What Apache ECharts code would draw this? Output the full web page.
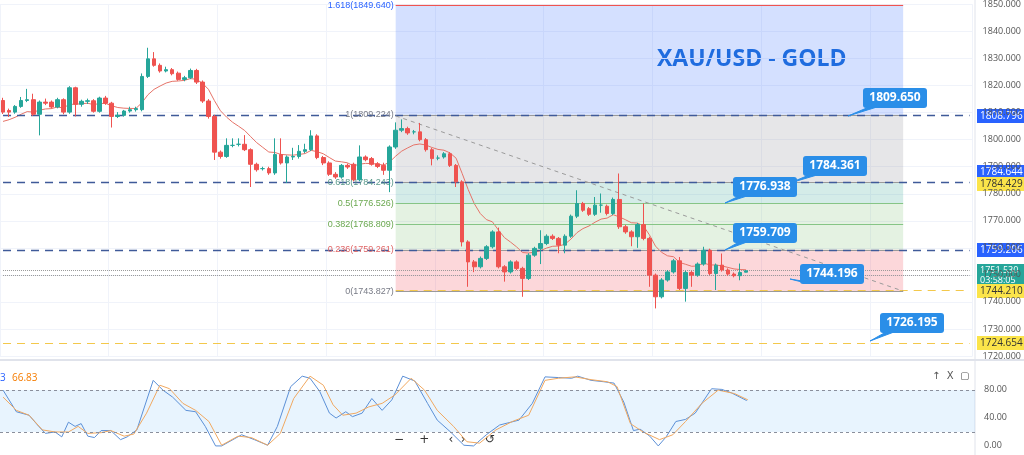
<!DOCTYPE html>
<html>
<head>
<meta charset="utf-8">
<script src="https://cdn.jsdelivr.net/npm/echarts@6/dist/echarts.min.js"></script>
<style>
html, body { margin: 0; padding: 0; background: #fff; }
#chart { width: 1024px; height: 455px; }
</style>
</head>
<body>
<div id="chart"></div>
<script>
// candles: [open, close, low, high]
var candles = [
    [1814.5,1810.2,1809.5,1815.5],[1810.8,1810.2,1808.4,1811.5],[1810.2,1812.3,1809.6,1812.8],[1812.3,1814.5,1811.8,1815.8],
    [1814.5,1814.8,1813.9,1818.8],[1814.8,1809.4,1808.8,1817.0],[1809.4,1813.9,1801.6,1814.5],[1813.9,1813.5,1812.8,1815.2],
    [1813.9,1812.1,1811.5,1814.5],[1812.1,1814.8,1811.6,1815.5],[1814.8,1810.2,1809.4,1815.3],[1810.2,1819.2,1809.6,1819.8],
    [1819.2,1813.1,1808.6,1819.6],[1813.1,1814.2,1812.2,1814.8],[1814.2,1814.4,1813.2,1815.2],[1814.4,1810.5,1810.0,1815.0],
    [1810.5,1815.4,1810.0,1815.9],[1815.4,1813.5,1812.9,1816.2],[1813.5,1808.6,1804.5,1814.0],[1808.6,1809.0,1808.0,1810.2],
    [1809.0,1810.6,1808.5,1811.0],[1810.6,1811.1,1810.0,1812.2],[1811.1,1811.5,1810.4,1812.2],[1811.1,1823.4,1810.5,1824.5],
    [1823.4,1829.9,1822.8,1834.0],[1829.9,1827.5,1827.0,1832.4],[1827.5,1825.4,1824.8,1828.2],[1825.4,1825.9,1824.9,1827.0],
    [1825.9,1824.4,1823.8,1826.5],[1824.6,1822.3,1821.8,1825.2],[1822.3,1822.9,1821.6,1823.6],[1822.9,1825.6,1822.4,1826.3],
    [1825.6,1821.3,1820.6,1826.2],[1821.3,1814.3,1813.6,1821.9],[1814.3,1808.6,1807.8,1815.0],[1808.6,1795.4,1792.5,1809.2],
    [1795.4,1793.8,1793.0,1796.0],[1793.8,1797.9,1793.3,1800.5],[1797.9,1797.9,1797.2,1800.5],[1798.3,1798.3,1797.5,1800.5],
    [1798.3,1796.3,1795.8,1801.7],[1796.3,1790.9,1782.5,1796.8],[1790.9,1788.9,1788.2,1791.5],[1789.3,1789.3,1788.6,1790.0],
    [1789.3,1787.7,1787.0,1790.0],[1787.7,1794.5,1787.0,1800.5],[1794.5,1791.4,1790.8,1800.5],[1791.4,1793.6,1784.0,1794.2],
    [1793.6,1793.8,1792.5,1797.0],[1793.8,1795.7,1793.0,1798.0],[1795.7,1796.3,1795.0,1798.5],[1796.3,1801.4,1795.8,1803.5],
    [1801.4,1793.4,1792.8,1802.0],[1793.4,1791.4,1790.6,1794.0],[1791.4,1787.2,1786.6,1792.0],[1787.2,1786.2,1785.5,1788.0],
    [1786.2,1790.5,1785.6,1791.0],[1790.5,1789.9,1789.2,1791.2],[1790.9,1785.2,1784.6,1791.5],[1785.2,1793.6,1784.6,1797.9],
    [1793.6,1792.6,1792.0,1794.2],[1793.0,1790.9,1790.4,1793.6],[1791.1,1790.1,1789.5,1791.7],[1790.5,1788.7,1787.0,1791.5],
    [1788.7,1797.3,1780.6,1797.9],[1797.3,1803.5,1796.6,1806.4],[1803.5,1804.1,1802.8,1807.5],[1804.1,1802.5,1801.8,1804.8],
    [1802.9,1802.9,1802.0,1803.6],[1802.9,1800.0,1799.4,1806.2],[1800.0,1796.3,1795.6,1800.6],[1796.3,1793.0,1790.5,1796.9],
    [1793.2,1793.2,1792.4,1794.2],[1793.6,1794.8,1793.0,1795.4],[1794.8,1790.5,1789.9,1795.4],[1790.5,1784.4,1782.5,1791.0],
    [1784.4,1762.2,1760.5,1785.0],[1762.2,1754.8,1745.6,1762.8],[1754.8,1753.0,1751.0,1755.5],[1753.0,1756.1,1752.4,1756.8],
    [1756.1,1760.4,1755.5,1761.0],[1760.4,1765.9,1759.8,1766.5],[1765.9,1753.0,1752.4,1767.5],[1753.0,1751.1,1747.5,1753.6],
    [1751.1,1754.8,1750.5,1755.4],[1754.8,1752.4,1751.8,1755.4],[1752.4,1748.7,1741.9,1753.0],[1748.7,1757.3,1748.1,1758.0],
    [1757.3,1759.8,1756.7,1760.4],[1759.8,1761.6,1754.0,1766.5],[1761.6,1764.3,1761.0,1765.0],[1764.3,1763.5,1762.9,1765.0],
    [1763.5,1761.0,1758.0,1764.0],[1761.0,1764.3,1758.0,1765.0],[1764.3,1771.7,1763.7,1772.3],[1771.7,1776.4,1771.0,1781.3],
    [1776.4,1773.9,1773.3,1777.0],[1774.5,1772.4,1771.8,1775.1],[1772.4,1775.8,1771.8,1778.8],[1775.8,1775.8,1773.0,1780.1],
    [1775.4,1772.7,1772.0,1776.0],[1772.7,1777.9,1772.1,1778.6],[1777.9,1767.8,1767.0,1787.5],[1767.8,1765.9,1765.2,1768.5],
    [1765.9,1764.1,1760.6,1766.5],[1764.1,1768.6,1760.0,1769.2],[1768.6,1763.5,1762.8,1776.4],[1763.5,1749.9,1745.6,1764.1],
    [1749.9,1741.9,1737.6,1750.5],[1741.9,1748.1,1741.3,1748.8],[1748.1,1751.1,1747.5,1751.8],[1751.1,1755.2,1750.5,1755.9],
    [1755.2,1745.0,1744.4,1756.6],[1745.0,1750.9,1740.1,1751.5],[1750.9,1749.9,1745.6,1751.5],[1749.9,1754.0,1749.3,1754.6],
    [1754.0,1759.1,1753.4,1760.4],[1759.1,1750.5,1749.9,1759.7],[1750.5,1753.6,1744.4,1754.2],[1753.6,1751.8,1751.2,1757.9],
    [1751.8,1750.3,1749.7,1752.4],[1750.3,1749.7,1749.1,1750.9],[1749.7,1750.9,1748.0,1754.2],[1751.0,1751.5,1750.9,1751.8]
];
var maSeed = 1806;
var slotCount = 161;

// stochastic %K (blue) and %D (orange): [candle index, value]
var stochK = [[0,80],[2.2,49],[4.3,44],[5.9,28],[7,18],[8.6,20],[9.7,13],[10.8,34],[11.9,28],[12.9,32],[14,14],[15.1,12],
    [16.2,22],[17.8,22],[19.4,9],[20.5,13],[22.1,23],[24.8,94],[26.4,80],[28,70],[30.2,51],[31.8,49],[33.4,28],[35.1,0],
    [36.1,0],[39.4,16],[41.5,9],[43.7,1],[45.3,28],[47.5,85],[49.4,100],[50.7,97],[52.3,78],[53.9,47],[55,40],[56.6,49],
    [57.7,42],[59.3,47],[60.9,68],[62.6,51],[64.2,66],[66,100],[68,93],[70.1,61],[71.7,37],[73.9,20],[76.1,1],[77.7,0],
    [79.8,16],[82,30],[85.2,37],[87.4,61],[89.5,99],[91.7,98],[93.9,97],[94.9,100],[97.1,94],[99.2,92],[100.9,90],[102.5,63],
    [104.1,22],[105.2,24],[106.8,14],[108.2,0],[109.5,13],[111.1,35],[112.7,38],[114.3,47],[117,82],[118.7,81],[120.3,76],[122.8,65]];
var stochD = [[0,70],[2.2,51],[4.3,44],[6.5,23],[8.6,20],[10.8,20],[12.4,28],[14,18],[16.2,19],[17.8,22],[20,14],[21.6,17],
    [23.7,47],[25.9,87],[27.5,82],[29.7,61],[31.8,51],[34,35],[36.1,1],[38.8,14],[41,12],[43.7,1],[45.8,18],[48,68],
    [50.7,100],[52.9,87],[54.5,59],[56.1,44],[58.3,47],[60.4,56],[62.6,61],[64.7,73],[67.4,97],[69.6,80],[71.7,51],[74.4,28],
    [76.6,6],[78.7,4],[81.4,23],[84.1,35],[86.8,44],[89.5,94],[91.7,97],[94.4,99],[97.1,95],[99.8,92],[101.4,85],[103.6,32],
    [105.7,20],[108.4,9],[110.6,16],[112.7,35],[115.4,61],[118.1,80],[120.8,75],[123,66]];

// fibonacci levels
var fibLevels = [
    { name: '1.618(1849.640)', value: 1849.64 },
    { name: '1(1809.224)', value: 1809.224 },
    { name: '0.618(1784.243)', value: 1784.243 },
    { name: '0.5(1776.526)', value: 1776.526 },
    { name: '0.382(1768.809)', value: 1768.809 },
    { name: '0.236(1759.261)', value: 1759.261 },
    { name: '0(1743.827)', value: 1743.827 }
];

var cats = [];
for (var i = 0; i < slotCount; i++) cats.push(i);

// moving average (EMA 10) from closes
var ma = [];
var prev = maSeed;
for (var j = 0; j < candles.length; j++) {
    prev = prev + (candles[j][1] - prev) * 2 / 11;
    ma.push(+prev.toFixed(2));
}

var fibStart = 65, fibEnd = 149;
var blueDash = { color: '#3f5a99', type: [8, 6], width: 1.3 };

function badge(y, text, bg, fg, h) {
    return {
        type: 'group', left: 977, top: y - (h || 14) / 2, z: 100,
        children: [
            { type: 'rect', shape: { width: 47, height: h || 14 }, style: { fill: bg } },
            { type: 'text', left: 3, top: 2, style: { text: text, fill: fg || '#fff', font: '10px "Open Sans"' } }
        ]
    };
}
function callout(x, y, text, tx, ty) {
    return [
        { type: 'polyline', z: 100, shape: { points: [[x + 6, y + 19], [tx, ty], [x + 14, y + 19]] },
          style: { fill: '#2a8ee8', stroke: '#2a8ee8' } },
        { type: 'rect', z: 100, shape: { x: x, y: y, width: 64, height: 20, r: 3 }, style: { fill: '#2a8ee8' } },
        { type: 'text', z: 101, x: x + 32, y: y + 10, style: { text: text, fill: '#fff', font: 'bold 12px "Open Sans"', align: 'center', verticalAlign: 'middle' } }
    ];
}

var graphics = [
    { type: 'text', left: 657, top: 48, style: { text: 'XAU/USD - GOLD', fill: '#1d6fd8', font: 'bold 23px "Open Sans"' } },
    { type: 'line', shape: { x1: 0, y1: 360, x2: 1024, y2: 360 }, style: { stroke: '#e0e3eb', lineWidth: 2 } },
    { type: 'line', shape: { x1: 975, y1: 0, x2: 975, y2: 455 }, style: { stroke: '#e0e3eb' } },
    badge(116, '1808.796', '#2962ff'),
    badge(172, '1784.644', '#2962ff'),
    badge(184, '1784.429', '#fbe44a', '#333'),
    badge(250, '1759.206', '#2962ff'),
    { type: 'group', left: 977, top: 264, z: 100, children: [
        { type: 'rect', shape: { width: 47, height: 22 }, style: { fill: '#26a69a' } },
        { type: 'text', left: 3, top: 1, style: { text: '1751.530\n03:58:05', fill: '#fff', font: '9px "Open Sans"', lineHeight: 10 } }
    ] },
    badge(291, '1744.210', '#fbe44a', '#333'),
    badge(343, '1724.654', '#fbe44a', '#333'),
    { type: 'text', left: 0, top: 373, style: { text: '3', fill: '#2962ff', font: '10px "Open Sans"' } },
    { type: 'text', left: 12, top: 373, style: { text: '66.83', fill: '#f57c00', font: '10px "Open Sans"' } },
    { type: 'text', left: 932, top: 371, style: { text: '↑  X  ▢', fill: '#555', font: '10px "DejaVu Sans"' } },
    { type: 'text', left: 984, top: 385, style: { text: '80.00', fill: '#555', font: '9px "Open Sans"' } },
    { type: 'text', left: 984, top: 413, style: { text: '40.00', fill: '#555', font: '9px "Open Sans"' } },
    { type: 'text', left: 984, top: 441, style: { text: '0.00', fill: '#555', font: '9px "Open Sans"' } },
    { type: 'text', left: 394, top: 434, style: { text: '−    +     ‹  ›     ↺', fill: '#333', font: '12px "DejaVu Sans"' } }
];
graphics = graphics.concat(
    callout(863, 88, '1809.650', 848, 116),
    callout(803, 156, '1784.361', 790, 183),
    callout(733, 177, '1776.938', 725, 203),
    callout(733, 223, '1759.709', 725, 250),
    callout(800, 264, '1744.196', 790, 279),
    callout(880, 313, '1726.195', 870, 341)
);

var fibLabelColors = ['#2962ff', '#787b86', '#5b9a8b', '#6aa84f', '#6aa84f', '#e06666', '#787b86'];

var options = {
    animation: false,
    grid: [
        { left: -3, right: 49, top: 4, height: 352 },
        { left: -3, right: 49, top: 365, height: 90 }
    ],
    xAxis: [
        { type: 'category', data: cats, gridIndex: 0, boundaryGap: true,
          axisLine: { show: false }, axisTick: { show: false }, axisLabel: { show: false },
          splitLine: { show: true, interval: 17, lineStyle: { color: '#f0f3fa' } } },
        { type: 'value', gridIndex: 1, min: -0.5, max: slotCount - 0.5,
          axisLine: { show: false }, axisTick: { show: false }, axisLabel: { show: false },
          splitLine: { show: false } }
    ],
    yAxis: [
        { type: 'value', gridIndex: 0, position: 'right', min: 1720, max: 1850, interval: 10,
          axisLine: { show: false }, axisTick: { show: false },
          axisLabel: { formatter: function (v) { return v.toFixed(3); }, color: '#555', fontSize: 9, margin: 10, fontFamily: 'Open Sans' },
          splitLine: { lineStyle: { color: '#f0f3fa' } } },
        { type: 'value', gridIndex: 1, min: -13, max: 116,
          axisLine: { show: false }, axisTick: { show: false }, axisLabel: { show: false }, splitLine: { show: false } }
    ],
    graphic: graphics,
    series: [
        {
            type: 'candlestick', xAxisIndex: 0, yAxisIndex: 0, data: candles, barWidth: '68%',
            itemStyle: { color: '#26a69a', color0: '#ef5350', borderColor: '#26a69a', borderColor0: '#ef5350' },
            z: 5,
            markArea: {
                silent: true,
                data: [
                    [{ xAxis: fibStart, yAxis: 1809.224, itemStyle: { color: 'rgba(41,98,255,0.2)' } }, { xAxis: fibEnd, yAxis: 1849.64 }],
                    [{ xAxis: fibStart, yAxis: 1849.64, itemStyle: { color: 'rgba(239,83,80,0.18)' } }, { xAxis: fibEnd, yAxis: 1852 }],
                    [{ xAxis: fibStart, yAxis: 1784.243, itemStyle: { color: 'rgba(140,140,150,0.22)' } }, { xAxis: fibEnd, yAxis: 1809.224 }],
                    [{ xAxis: fibStart, yAxis: 1776.526, itemStyle: { color: 'rgba(60,170,150,0.22)' } }, { xAxis: fibEnd, yAxis: 1784.243 }],
                    [{ xAxis: fibStart, yAxis: 1759.261, itemStyle: { color: 'rgba(120,190,110,0.2)' } }, { xAxis: fibEnd, yAxis: 1776.526 }],
                    [{ xAxis: fibStart, yAxis: 1743.827, itemStyle: { color: 'rgba(242,54,69,0.2)' } }, { xAxis: fibEnd, yAxis: 1759.261 }]
                ]
            },
            markLine: {
                silent: true, symbol: 'none', animation: false,
                data: fibLevels.map(function (f, k) {
                    return [
                        { coord: [fibStart, f.value], lineStyle: { color: k === 0 ? '#ef5350' : (k === 3 || k === 4 ? '#86c586' : '#9a9a9a'), type: 'solid', width: 1 },
                          label: { show: true, position: 'start', formatter: f.name, color: fibLabelColors[k], fontSize: 9, distance: 2 } },
                        { coord: [fibEnd, f.value] }
                    ];
                }).concat([
                    [{ coord: [0, 1809.224], lineStyle: blueDash, label: { show: false } }, { coord: [slotCount - 1, 1809.224] }],
                    [{ coord: [0, 1784.243], lineStyle: blueDash, label: { show: false } }, { coord: [slotCount - 1, 1784.243] }],
                    [{ coord: [0, 1759.261], lineStyle: blueDash, label: { show: false } }, { coord: [slotCount - 1, 1759.261] }],
                    [{ coord: [fibStart, 1744.21], lineStyle: { color: '#f3c84b', type: [8, 6], width: 1.2 }, label: { show: false } }, { coord: [slotCount - 1, 1744.21] }],
                    [{ coord: [0, 1724.654], lineStyle: { color: '#f3c84b', type: [8, 6], width: 1.2 }, label: { show: false } }, { coord: [slotCount - 1, 1724.654] }],
                    [{ coord: [0, 1751.53], lineStyle: { color: '#999', type: 'dotted', width: 1 }, label: { show: false } }, { coord: [slotCount - 1, 1751.53] }],
                    [{ coord: [0, 1749.8], lineStyle: { color: '#999', type: 'dotted', width: 1 }, label: { show: false } }, { coord: [slotCount - 1, 1749.8] }],
                    [{ coord: [65, 1808.8], lineStyle: { color: '#9a9a9a', type: [4, 4], width: 1 }, label: { show: false } }, { coord: [149, 1744] }]
                ])
            }
        },
        {
            type: 'line', xAxisIndex: 0, yAxisIndex: 0, data: ma, symbol: 'none', z: 4,
            lineStyle: { color: '#e57368', width: 1 }
        },
        {
            type: 'line', xAxisIndex: 1, yAxisIndex: 1, data: stochK, symbol: 'none',
            lineStyle: { color: '#5b8fd6', width: 1 },
            markArea: { silent: true, data: [[{ yAxis: 20, itemStyle: { color: 'rgba(33,150,243,0.1)' } }, { yAxis: 80 }]] },
            markLine: { silent: true, symbol: 'none', label: { show: false },
                lineStyle: { color: '#8a8f9c', type: [3, 3], width: 1 },
                data: [{ yAxis: 80 }, { yAxis: 20 }] }
        },
        {
            type: 'line', xAxisIndex: 1, yAxisIndex: 1, data: stochD, symbol: 'none',
            lineStyle: { color: '#f0a860', width: 1 }
        }
    ]
};

var chart = echarts.init(document.getElementById('chart'));
chart.setOption(options);
</script>
</body>
</html>
